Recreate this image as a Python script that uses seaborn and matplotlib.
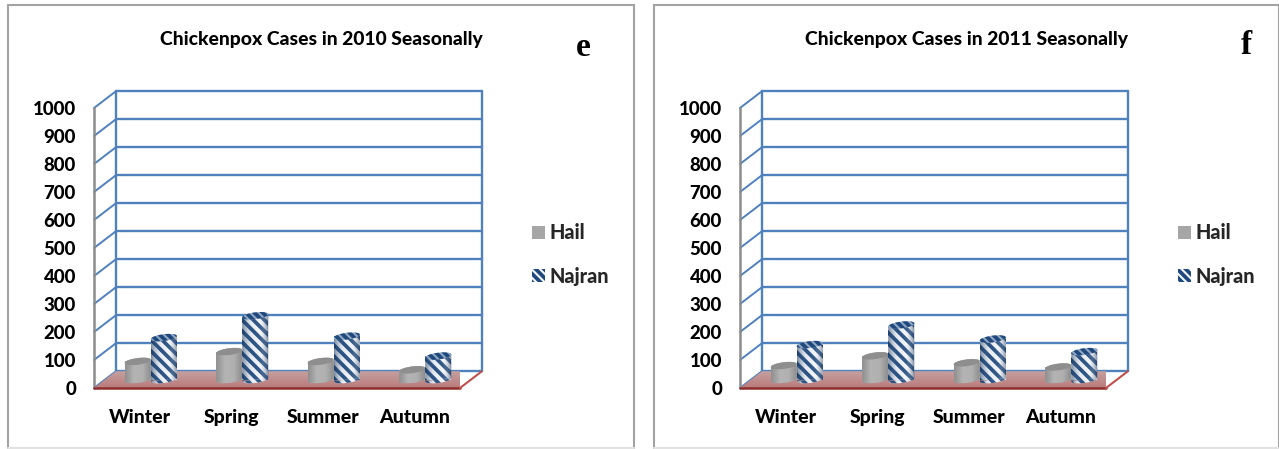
import numpy as np
import pandas as pd
import matplotlib
matplotlib.use('Agg')
import matplotlib.pyplot as plt
from matplotlib.colors import LinearSegmentedColormap
from matplotlib.patches import Polygon, Patch, Rectangle
from matplotlib.lines import Line2D
from matplotlib.transforms import Affine2D
import seaborn as sns

seasons = ['Winter', 'Spring', 'Summer', 'Autumn']
cities = ['Hail', 'Najran']
hail_2010 = [65, 100, 65, 35]
najran_2010 = [150, 228, 155, 84]
hail_2011 = [50, 85, 60, 45]
najran_2011 = [125, 195, 145, 100]
y_ticks = [0, 100, 200, 300, 400, 500, 600, 700, 800, 900, 1000]

W, H = 1279, 449
GRAY = '#a6a6a6'
NAVY = '#1f497d'
BLUE = '#4f81bd'
STRIPE = '\\\\\\'
# how far the back wall sits from the front plane, in data units
DEPTH_X = 0.24
DEPTH_Y = 60

sns.set_theme(style='white')
plt.rcParams['font.family'] = ['Lato', 'DejaVu Sans']
plt.rcParams['font.weight'] = 900
plt.rcParams['hatch.linewidth'] = 2.7

fig = plt.figure(figsize=(W / 100, H / 100), dpi=100, facecolor='white')


def ellipse_xy(cx, cy, w, h, tilt=0.0, t0=0, t1=2 * np.pi):
    t = np.linspace(t0, t1, 50)
    x = cx + w / 2 * np.cos(t)
    y = cy + h / 2 * np.sin(t) + tilt * (x - cx)
    return np.column_stack([x, y])


def shade(ax, xy, trans, stops, z, horizontal=True):
    # gradient image clipped to an outline, used for the round look and the floor
    cmap = LinearSegmentedColormap.from_list('shade', stops)
    ramp = np.linspace(0, 1, 64)
    grid = ramp[None, :] if horizontal else ramp[:, None]
    im = ax.imshow(grid, cmap=cmap, aspect='auto', zorder=z, interpolation='bilinear',
                   extent=(xy[:, 0].min(), xy[:, 0].max(), xy[:, 1].min(), xy[:, 1].max()),
                   origin='upper', clip_on=True)
    im.set_transform(trans)
    im.set_clip_path(Polygon(xy, closed=True, transform=trans))


def draw_panel(left, hail, najran, title, letter, letter_xy):
    ax = fig.add_axes([(left + 94) / W, (H - 388) / H, 366 / W, 280 / H])
    ax.patch.set_alpha(0)

    df = pd.DataFrame({'season': seasons * 2,
                       'city': [cities[0]] * 4 + [cities[1]] * 4,
                       'cases': hail + najran})
    sns.barplot(data=df, x='season', y='cases', hue='city', palette=[GRAY, NAVY],
                width=0.57, gap=0, legend=False, ax=ax)

    # bars stand half way back on the floor
    mid = Affine2D().translate(DEPTH_X / 2, DEPTH_Y / 2) + ax.transData
    ell_h = 24
    tilt = 40

    for cont, city in zip(ax.containers, cities):
        z = 3 if city == 'Hail' else 5
        for bar in cont:
            bar.set_transform(mid)
            bar.set_clip_on(False)
            bar.set_zorder(z)
            bar.set_linewidth(0)
            x0, w, top = bar.get_x(), bar.get_width(), bar.get_height()
            cx = x0 + w / 2
            base = ellipse_xy(cx, 0, w, ell_h, tilt, np.pi, 2 * np.pi)
            cap = ellipse_xy(cx, top, w, ell_h, tilt)
            body = np.vstack([base, ellipse_xy(cx, top, w, ell_h, tilt, 0, np.pi)])
            if city == 'Najran':
                bar.set_facecolor('#f2f4f7')
                bar.set_edgecolor(NAVY)
                bar.set_hatch(STRIPE)
                ax.add_patch(Polygon(base, closed=True, transform=mid, facecolor='#f2f4f7',
                                     edgecolor=NAVY, hatch=STRIPE, lw=0, zorder=z, clip_on=False))
                shade(ax, body, mid, [(0.1, 0.2, 0.35, 0.55), (0.5, 0.6, 0.7, 0.1),
                                      (1, 1, 1, 0.1), (0.1, 0.2, 0.35, 0.6)], z + 0.1)
                ax.add_patch(Polygon(cap, closed=True, transform=mid, facecolor='#8fa6c2',
                                     edgecolor=NAVY, hatch='\\\\\\\\', lw=0, zorder=z + 0.2, clip_on=False))
            else:
                ax.add_patch(Polygon(base, closed=True, transform=mid, facecolor=GRAY,
                                     lw=0, zorder=z, clip_on=False))
                shade(ax, body, mid, ['#8f8f8f', '#b4b4b4', '#b0b0b0', '#8a8a8a'], z + 0.1)
                ax.add_patch(Polygon(cap, closed=True, transform=mid, facecolor='#8e8e8e',
                                     lw=0, zorder=z + 0.2, clip_on=False))

    # back wall, side wall and floor
    xl, xr = -0.5, 3.5
    for v in y_ticks:
        ax.plot([xl + DEPTH_X, xr + DEPTH_X], [v + DEPTH_Y] * 2, color=BLUE, lw=1.7,
                clip_on=False, zorder=1)
        ax.plot([xl, xl + DEPTH_X], [v, v + DEPTH_Y], color=BLUE, lw=1.4,
                clip_on=False, zorder=1)
    for x in (xl + DEPTH_X, xr + DEPTH_X):
        ax.plot([x, x], [DEPTH_Y, 1000 + DEPTH_Y], color=BLUE, lw=1.7, clip_on=False, zorder=1)
    ax.plot([xl, xl], [0, 1000], color='#8c8c8c', lw=1.8, clip_on=False, zorder=1.5)

    floor = np.array([[xl, 0], [xr, 0], [xr + DEPTH_X, DEPTH_Y], [xl + DEPTH_X, DEPTH_Y]])
    shade(ax, floor, ax.transData, ['#c4a0a0', '#bc7a7a'], 1.2, horizontal=False)
    ax.plot([xl, xr], [0, 0], color='#8c2f2c', lw=1.8, clip_on=False, zorder=2)
    ax.plot([xr, xr + DEPTH_X], [0, DEPTH_Y], color='#c0504d', lw=1.5, clip_on=False, zorder=2)

    ax.set_xlim(xl, xr)
    ax.set_ylim(0, 1000)
    ax.set_yticks(y_ticks)
    ax.set_xlabel('')
    ax.set_ylabel('')
    ax.tick_params(axis='both', length=0, labelsize=13.4, labelcolor='black')
    ax.tick_params(axis='x', pad=15, labelsize=14)
    ax.tick_params(axis='y', pad=13)
    sns.despine(ax=ax, left=True, bottom=True)

    handles = [Patch(facecolor=GRAY, linewidth=0, label='Hail'),
               Patch(facecolor='#f2f4f7', edgecolor=NAVY, hatch='\\\\\\\\', linewidth=0, label='Najran')]
    ax.legend(handles=handles, loc='center left', frameon=False, fontsize=14.3,
              bbox_to_anchor=(420 / 366, (388 - 254.5) / 280),
              handlelength=0.65, handleheight=0.65, handletextpad=0.22, labelspacing=1.22)

    fig.text((left + 321) / W, (H - 39) / H, title, ha='center', va='center',
             fontsize=13.9, color='black')
    fig.text(letter_xy[0] / W, (H - letter_xy[1]) / H, letter, ha='center', va='center',
             fontsize=24, family='Liberation Serif', weight='bold', color='black')

    # outer chart frame
    frame_x0 = left + 8
    frame = Rectangle((frame_x0 / W, 0), 626 / W if left == 0 else 625 / W, (H - 5) / H,
                      transform=fig.transFigure, facecolor='none', edgecolor='#a3a3a3', lw=1.5)
    fig.add_artist(frame)
    fig.add_artist(Line2D([frame_x0 / W, (frame_x0 + 626) / W], [0.002, 0.002],
                          color='#e2e2e2', lw=1.5, transform=fig.transFigure))


draw_panel(0, hail_2010, najran_2010, 'Chickenpox Cases in 2010 Seasonally', 'e', (583, 47))
draw_panel(646, hail_2011, najran_2011, 'Chickenpox Cases in 2011 Seasonally', 'f', (1246, 46))

fig.savefig('out.png', dpi=100)
